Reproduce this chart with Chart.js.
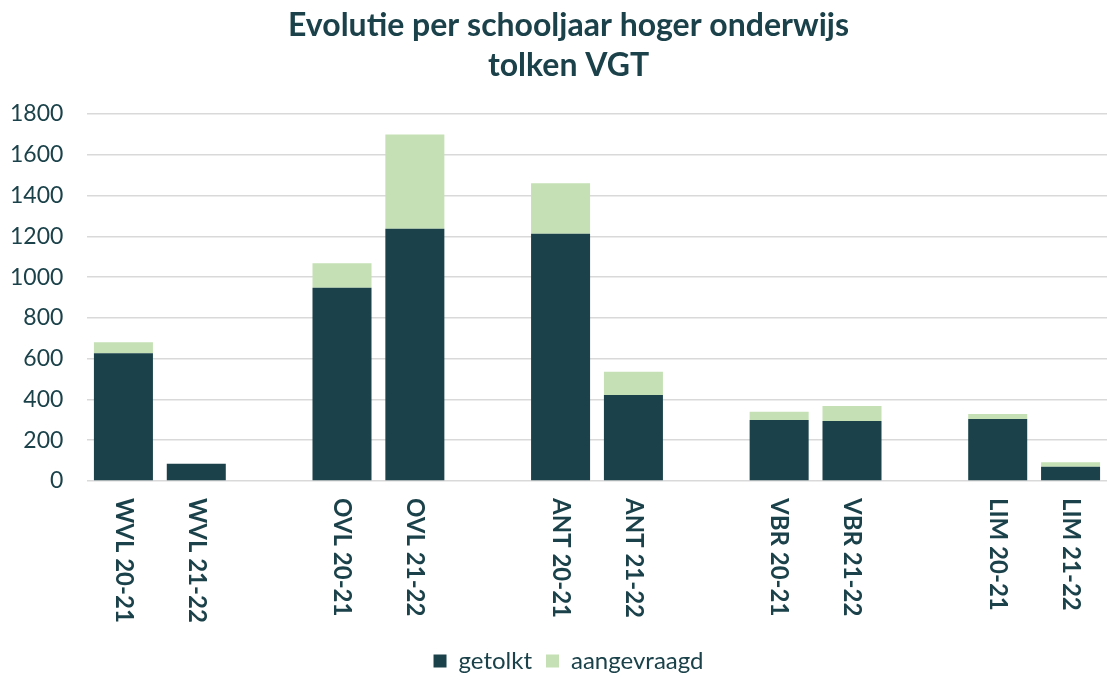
<!DOCTYPE html>
<html>
<head>
<meta charset="utf-8">
<script src="https://cdn.jsdelivr.net/npm/chart.js@4.4.1/dist/chart.umd.min.js"></script>
<style>
  html, body { margin: 0; padding: 0; background: #fff; }
  #wrap { width: 1107px; height: 674px; position: relative; }
</style>
</head>
<body>
<div id="wrap"><canvas id="tolkChart"></canvas></div>
<script>
// data (empty labels are the gaps between regions)
const categories = ['WVL 20-21', 'WVL 21-22', '', 'OVL 20-21', 'OVL 21-22', '', 'ANT 20-21', 'ANT 21-22', '', 'VBR 20-21', 'VBR 21-22', '', 'LIM 20-21', 'LIM 21-22'];
const getolkt = [626, 85, null, 948, 1237, null, 1213, 422, null, 299, 294, null, 304, 70];
const aangevraagd = [54, 0, null, 120, 463, null, 247, 114, null, 41, 74, null, 25, 22];
const yTicks = [0, 200, 400, 600, 800, 1000, 1200, 1400, 1600, 1800];

const darkGreen = '#1B424A';
const lightGreen = '#C5E0B4';
const textColor = '#1B424A';

// labels read top-to-bottom, so draw them ourselves at the tick positions
const downLabels = {
    id: 'downLabels',
    afterDraw(chart) {
        const scale = chart.scales.x;
        const ctx = chart.ctx;
        ctx.save();
        ctx.fillStyle = textColor;
        ctx.font = 'bold 24px Lato';
        ctx.textAlign = 'left';
        ctx.textBaseline = 'middle';
        categories.forEach((lab, i) => {
            if (!lab) return;
            const x = scale.getPixelForTick(i);
            ctx.save();
            ctx.translate(x, scale.top + 17);
            ctx.rotate(Math.PI / 2);
            ctx.fillText(lab, 0, 0);
            ctx.restore();
        });
        ctx.restore();
    }
};

const tolkChart = document.getElementById('tolkChart');
if (tolkChart) {
    const tolkData = {
        labels: categories,
        datasets: [{
            label: 'getolkt',
            data: getolkt,
            backgroundColor: darkGreen,
            borderWidth: 0
        }, {
            label: 'aangevraagd',
            data: aangevraagd,
            backgroundColor: lightGreen,
            borderWidth: 0
        }]
    };
    const tolkOptions = {
        responsive: true,
        maintainAspectRatio: false,
        animation: false,
        layout: {
            padding: { left: 30, right: 0, top: 4, bottom: -9 }
        },
        datasets: {
            bar: {
                categoryPercentage: 1.0,
                barPercentage: 0.81
            }
        },
        scales: {
            x: {
                stacked: true,
                grid: { display: false },
                border: { display: false },
                ticks: { display: false },
                afterFit: (axis) => { axis.height = 154; }
            },
            y: {
                stacked: true,
                min: 0,
                max: 1800,
                afterBuildTicks: (axis) => {
                    axis.ticks = yTicks.map(v => ({ value: v }));
                },
                afterFit: (axis) => { axis.width = 57; },
                grid: {
                    color: '#D9D9D9',
                    lineWidth: 1.5,
                    drawTicks: false
                },
                border: { display: false },
                ticks: {
                    color: textColor,
                    font: { family: 'Lato', size: 23 },
                    // mirrored so the labels are not clipped to the narrow axis box
                    mirror: true,
                    crossAlign: 'far',
                    padding: -77,
                    callback: (v) => String(v)
                }
            }
        },
        plugins: {
            title: {
                display: true,
                text: ['Evolutie per schooljaar hoger onderwijs', 'tolken VGT'],
                color: textColor,
                font: { family: 'Lato', size: 32, weight: 'bold', lineHeight: 1.25 },
                padding: { top: 2, bottom: 28 }
            },
            legend: {
                position: 'bottom',
                labels: {
                    color: textColor,
                    font: { family: 'Lato', size: 24 },
                    boxWidth: 13,
                    boxHeight: 13,
                    padding: 14
                }
            },
            tooltip: { enabled: false }
        }
    };
    new Chart(tolkChart, {
        type: 'bar',
        data: tolkData,
        options: tolkOptions,
        plugins: [downLabels]
    });
}
</script>
</body>
</html>
